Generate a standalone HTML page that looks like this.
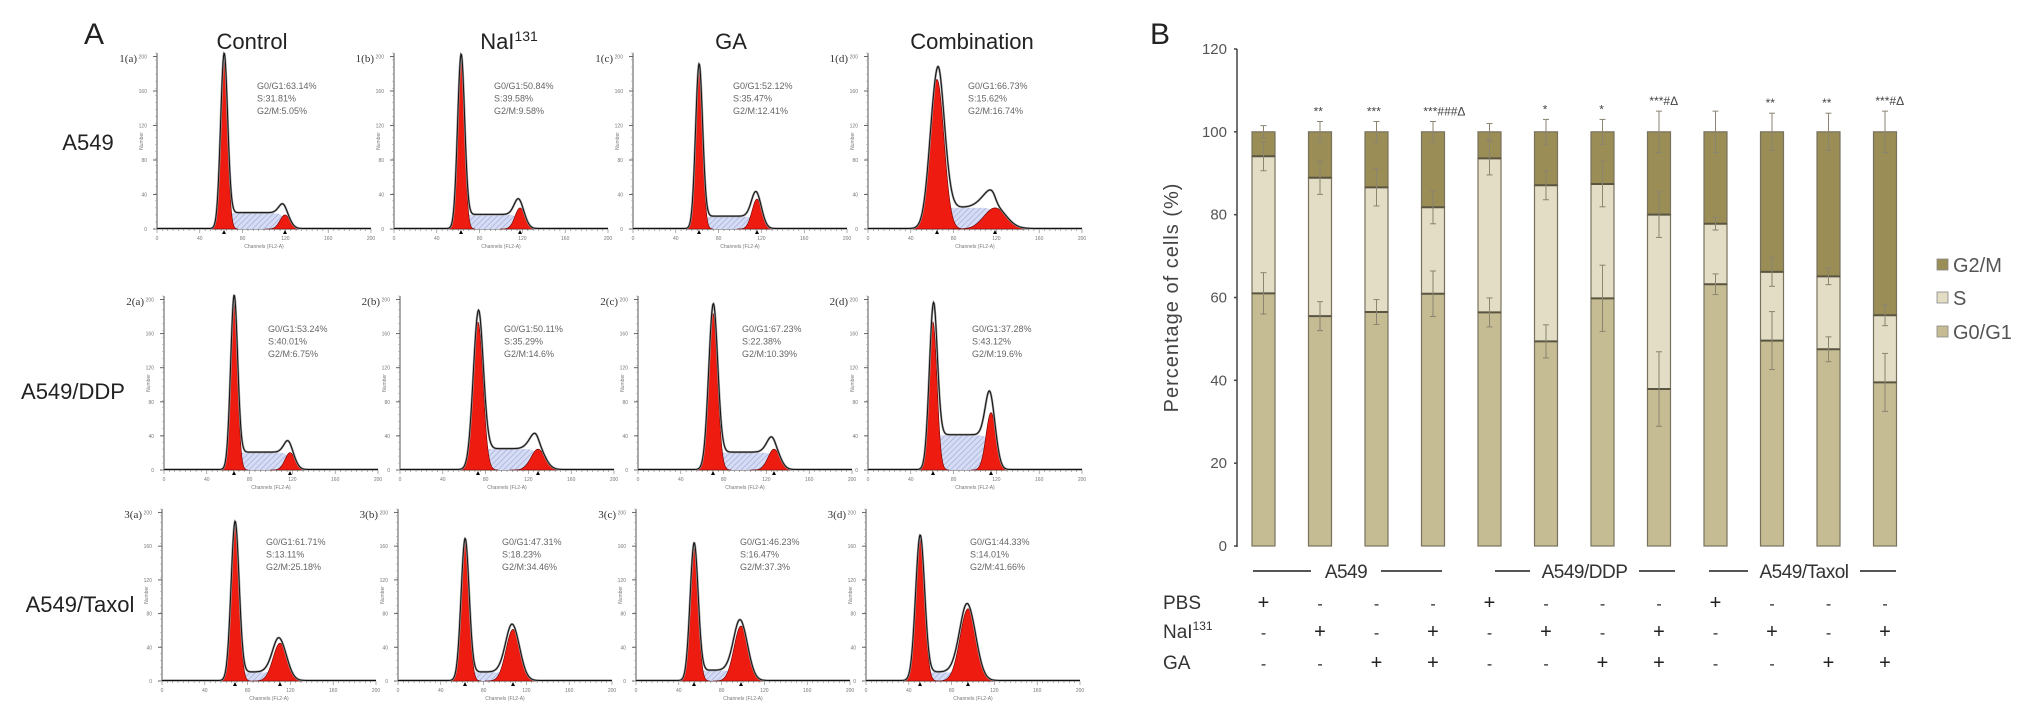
<!DOCTYPE html>
<html><head><meta charset="utf-8">
<style>
html,body{margin:0;padding:0;background:#fff;}
body{width:2031px;height:719px;overflow:hidden;position:relative;font-family:"Liberation Sans",sans-serif;}
svg{position:absolute;left:0;top:0;}
</style></head>
<body>
<svg id="fig" width="2031" height="719" viewBox="0 0 2031 719" xmlns="http://www.w3.org/2000/svg">
<defs>
<pattern id="hatch" width="4" height="4" patternUnits="userSpaceOnUse" patternTransform="rotate(45)">
<rect width="4" height="4" fill="#d6dcf4"/><line x1="0" y1="0" x2="0" y2="4" stroke="#9aa6d8" stroke-width="1.2"/>
</pattern>
</defs>
<g id="panelA"></g>
<g id="panelB"></g>
</svg>
<script>
// ---------- Panel B data ----------
const groups = ["A549","A549/DDP","A549/Taxol"];
const g0g1 = [61,55.5,56.5,60.9,56.4,49.4,59.8,37.9,63.2,49.6,47.5,39.5];
const sTop = [94.1,88.9,86.6,81.8,93.6,87.1,87.4,80,77.8,66.2,65.1,55.7];
const errG0 = [5,3.5,3,5.5,3.5,4,8,9,2.5,7,3,7];
const errS = [3.5,4,4.5,4,4,3.5,5.5,5.5,1.5,3.5,2,2.5];
const errG2 = [1.5,2.5,2.5,2.5,2,3,3,5,5,4.5,4.5,5];
const sigLabels = ["","**","***","***###Δ","","*","*","***#Δ","","**","**","***#Δ"];
const yTicks = [0,20,40,60,80,100,120];
const pbsRow = ["+","-","-","-","+","-","-","-","+","-","-","-"];
const naiRow = ["-","+","-","+","-","+","-","+","-","+","-","+"];
const gaRow  = ["-","-","+","+","-","-","+","+","-","-","+","+"];

// ---------- Panel A data ----------
const colTitles = ["Control","NaI","GA","Combination"];
const rowTitles = ["A549","A549/DDP","A549/Taxol"];
const pctG1 = ["63.14","50.84","52.12","66.73","53.24","50.11","67.23","37.28","61.71","47.31","46.23","44.33"];
const pctS  = ["31.81","39.58","35.47","15.62","40.01","35.29","22.38","43.12","13.11","18.23","16.47","14.01"];
const pctG2 = ["5.05","9.58","12.41","16.74","6.75","14.6","10.39","19.6","25.18","34.46","37.3","41.66"];
const g1Pos = [67,67,66,69,70,78,75,65,73,67,58,54];
const g1Amp = [0.95,0.95,0.9,0.85,0.95,0.85,0.9,0.85,0.9,0.8,0.77,0.82];
const g1Sd  = [3.5,3.5,3.5,7,3.5,5,4.5,4,4,4,4,4.5];
const g2Pos = [128,126,124,127,126,138,136,123,118,115,105,102];
const g2Amp = [0.08,0.12,0.17,0.12,0.1,0.12,0.12,0.33,0.22,0.3,0.32,0.42];
const g2Sd  = [5,5,5,11,5,7,6,5,7,7,7,8];
const sLvl  = [0.09,0.08,0.07,0.12,0.1,0.12,0.1,0.2,0.05,0.05,0.06,0.05];

const NS="http://www.w3.org/2000/svg";
function mk(tag, attrs, parent, text){
  const e=document.createElementNS(NS,tag);
  for(const k in attrs) e.setAttribute(k,attrs[k]);
  if(text!==undefined) e.textContent=text;
  parent.appendChild(e); return e;
}
const A=document.getElementById('panelA');
const B=document.getElementById('panelB');

// ===== Panel A =====
let t=mk('text',{x:84,y:44,'font-size':30,fill:'#222'},A,'A');


const colCenters=[252,509,731,972];
colTitles.forEach((c,i)=>{
  const tx=mk('text',{x:colCenters[i],y:49,'font-size':22,fill:'#222','text-anchor':'middle'},A,c);
  if(i===1){ mk('tspan',{'font-size':14,dy:-8},tx,'131'); }
  
  
});
const rowCenters=[[88,150],[73,399],[80,612]];
rowTitles.forEach((r,i)=>{
  const tx=mk('text',{x:rowCenters[i][0],y:rowCenters[i][1],'font-size':22,fill:'#222','text-anchor':'middle'},A,r);
  
  
});
const rowTop=[53,296,509], rowBase=[229,470,681];
const colAx=[[157,394,633,868],[164,400,638,868],[162,398,636,866]];
const PW=214;
const ids=['a','b','c','d'];
for(let r=0;r<3;r++){for(let c=0;c<4;c++){
  const k=r*4+c, ax=colAx[r][c], top=rowTop[r], base=rowBase[r], H=base-top;
  const g=mk('g',{},A);
  
  
  mk('text',{x:ax-20,y:top+9,'font-size':11,fill:'#333','text-anchor':'end','font-family':'Liberation Serif, serif'},g,(r+1)+'('+ids[c]+')');
  mk('line',{x1:ax,y1:top,x2:ax,y2:base,stroke:'#555','stroke-width':1},g);
  mk('line',{x1:ax,y1:base,x2:ax+PW,y2:base,stroke:'#555','stroke-width':1},g);
  for(let i=0;i<=5;i++){const yy=base-i*H/5*0.98; mk('line',{x1:ax-4,y1:yy,x2:ax,y2:yy,stroke:'#666'},g);
    mk('text',{x:ax-10,y:yy+2,'font-size':5,fill:'#777','text-anchor':'end'},g,String(i*40));}
  for(let i=0;i<=25;i++){const yy=top+i*H/25; mk('line',{x1:ax-2,y1:yy,x2:ax,y2:yy,stroke:'#999','stroke-width':0.5},g);}
  for(let i=0;i<=40;i++){const xx=ax+i*PW/40; mk('line',{x1:xx,y1:base,x2:xx,y2:base+(i%8==0?4:2),stroke:'#777','stroke-width':0.6},g);}
  for(let i=0;i<=5;i++){mk('text',{x:ax+i*PW/5,y:base+11,'font-size':5,fill:'#777','text-anchor':'middle'},g,String(i*40));}
  mk('text',{x:ax+PW/2,y:base+19,'font-size':5,fill:'#777','text-anchor':'middle'},g,'Channels (FL2-A)');
  mk('text',{x:0,y:0,'font-size':5,fill:'#777','text-anchor':'middle',transform:`translate(${ax-14},${top+H/2}) rotate(-90)`},g,'Number');
  const p1=g1Pos[k],p2=g2Pos[k];
  const f1=x=>g1Amp[k]*H*Math.exp(-0.5*((x-p1)/g1Sd[k])**2);
  const f2=x=>g2Amp[k]*H*Math.exp(-0.5*((x-p2)/g2Sd[k])**2);
  const fs=x=>{const a=1/(1+Math.exp(-(x-p1)/1.5)),b=1/(1+Math.exp((x-p2)/2));return sLvl[k]*H*a*b;};
  let sPath=`M${ax+p1-4},${base}`, r1=`M${ax+p1-4*g1Sd[k]},${base}`, r2=`M${ax+p2-4*g2Sd[k]},${base}`, tot='';
  for(let x=p1-4;x<=p2+4;x+=1) sPath+=`L${ax+x},${base-fs(x)}`;
  sPath+=`L${ax+p2+4},${base}Z`;
  for(let x=p1-4*g1Sd[k];x<=p1+4*g1Sd[k];x+=0.5) r1+=`L${ax+x},${base-f1(x)}`;
  r1+=`L${ax+p1+4*g1Sd[k]},${base}Z`;
  for(let x=p2-4*g2Sd[k];x<=p2+4*g2Sd[k];x+=0.5) r2+=`L${ax+x},${base-f2(x)}`;
  r2+=`L${ax+p2+4*g2Sd[k]},${base}Z`;
  for(let x=0;x<=PW;x+=0.5){const y=base-(f1(x)+f2(x)+fs(x))-0.5; tot+=(x===0?'M':'L')+(ax+x)+','+y;}
  const sp=mk('path',{d:sPath,fill:'url(#hatch)',stroke:'none'},g);
   
  const rp1=mk('path',{d:r1,fill:'#ee1c10',stroke:'#600',"stroke-width":0.6},g);
   
  const rp2=mk('path',{d:r2,fill:'#ee1c10',stroke:'#600',"stroke-width":0.6},g);
   
  mk('path',{d:tot,fill:'none',stroke:'#999','stroke-width':2.2},g);
  mk('path',{d:tot,fill:'none',stroke:'#111','stroke-width':1},g);
  mk('path',{d:`M${ax+p1-2},${base+5}l2,-4l2,4z`,fill:'#000'},g);
  mk('path',{d:`M${ax+p2-2},${base+5}l2,-4l2,4z`,fill:'#000'},g);
  const tx0=ax+100+(r>0?4:0), ty0=top+36;
  const lab=mk('text',{x:tx0,y:ty0,'font-size':9,fill:'#666'},g);
   
  mk('tspan',{x:tx0,dy:0},lab,'G0/G1:'+pctG1[k]+'%');
  mk('tspan',{x:tx0,dy:12.5},lab,'S:'+pctS[k]+'%');
  mk('tspan',{x:tx0,dy:12.5},lab,'G2/M:'+pctG2[k]+'%');
}}

// ===== Panel B =====
t=mk('text',{x:1150,y:44,'font-size':30,fill:'#222'},B,'B');


const Y0=546, YPU=(546-49)/120;
const yS=v=>Y0-v*YPU;
const AXX=1237, BX0=1252, BSP=56.5, BW=23;
const bx=i=>BX0+i*BSP;
const yaxis=mk('line',{x1:AXX,y1:yS(120),x2:AXX,y2:yS(0)+1,stroke:'#444','stroke-width':1.5},B);
 
yTicks.forEach(v=>{
  mk('line',{x1:AXX-3,y1:yS(v),x2:AXX,y2:yS(v),stroke:'#444','stroke-width':1.5},B);
  const tl=mk('text',{x:AXX-10,y:yS(v)+5,'font-size':15,fill:'#555','text-anchor':'end'},B,String(v));
   
});
const yt=mk('text',{x:0,y:0,'font-size':20,fill:'#444','text-anchor':'middle','letter-spacing':'1',transform:`translate(1178,${yS(60)}) rotate(-90)`},B,'Percentage of cells (%)');
 
const cG0='#c6bc94', cS='#e3ddc6', cG2='#9b8d56', cEdge='#77725e';
for(let i=0;i<12;i++){
  const x=bx(i), top=sTop[i], g0=g0g1[i];
  const bg=mk('g',{},B);
   
  let rr=mk('rect',{x:x,y:yS(g0),width:BW,height:yS(0)-yS(g0),fill:cG0,stroke:cEdge,'stroke-width':1.2},bg);
   
  rr=mk('rect',{x:x,y:yS(top),width:BW,height:yS(g0)-yS(top),fill:cS,stroke:cEdge,'stroke-width':1.2},bg);
   
  rr=mk('rect',{x:x,y:yS(100),width:BW,height:yS(top)-yS(100),fill:cG2,stroke:cEdge,'stroke-width':1.2},bg);
   
  mk('line',{x1:x,y1:yS(g0),x2:x+BW,y2:yS(g0),stroke:'#5a5540','stroke-width':2},bg);
  mk('line',{x1:x,y1:yS(top),x2:x+BW,y2:yS(top),stroke:'#5a5540','stroke-width':2},bg);
  const cx=x+BW/2;
  [[g0,errG0[i]],[top,errS[i]],[100,errG2[i]]].forEach(([v,e])=>{
    mk('line',{x1:cx,y1:yS(v+e),x2:cx,y2:yS(v-e),stroke:'#8a8470','stroke-width':1},bg);
    mk('line',{x1:cx-3,y1:yS(v+e),x2:cx+3,y2:yS(v+e),stroke:'#8a8470','stroke-width':1},bg);
    mk('line',{x1:cx-3,y1:yS(v-e),x2:cx+3,y2:yS(v-e),stroke:'#8a8470','stroke-width':1},bg);
  });
  if(sigLabels[i]){
    const sl=mk('text',{x:cx-5,y:yS(100+errG2[i])-6,'font-size':12,fill:'#444','text-anchor':'start'},B,sigLabels[i]);
    sl.setAttribute('x',cx-(sigLabels[i].replace(/[#Δ]/g,'').length*3.2));
     
  }
}
const grpLines=[[1253,1311,1381,1442],[1495,1530,1639,1675],[1709,1748,1860,1896]];
groups.forEach((gname,gi)=>{
  const L=grpLines[gi];
  mk('line',{x1:L[0],y1:571,x2:L[1],y2:571,stroke:'#555','stroke-width':2},B);
  mk('line',{x1:L[2],y1:571,x2:L[3],y2:571,stroke:'#555','stroke-width':2},B);
  const gt=mk('text',{x:(L[1]+L[2])/2,y:578,'font-size':19,fill:'#333','text-anchor':'middle','letter-spacing':'-0.5'},B,gname);
   
});
const rowsT=[["PBS",pbsRow,609],["NaI",naiRow,638],["GA",gaRow,669]];
rowsT.forEach(([nm,arr,y],ri)=>{
  const rl=mk('text',{x:1163,y:y,'font-size':19,fill:'#333'},B,nm);
  if(ri===1) mk('tspan',{'font-size':12,dy:-8},rl,'131');
   
  arr.forEach((s,i)=>{
    const m=mk('text',{x:bx(i)+BW/2,y:y,'font-size':s==='+'?20:16,fill:'#222','text-anchor':'middle'},B,s);
     
  });
});
const legend=[["G2/M",cG2,265],["S",cS,298],["G0/G1",cG0,332]];
legend.forEach(([nm,col,y])=>{
  const lg=mk('g',{},B);
   
  mk('rect',{x:1937,y:y-6,width:11,height:11,fill:col,stroke:'#888','stroke-width':0.8},lg);
  mk('text',{x:1953,y:y+7,'font-size':20,fill:'#555'},lg,nm);
});
</script>
</body></html>
